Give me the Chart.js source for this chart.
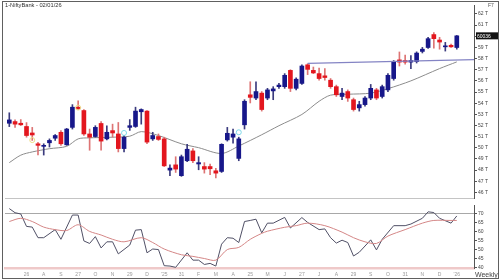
<!DOCTYPE html>
<html>
<head>
<meta charset="utf-8">
<script src="https://cdn.jsdelivr.net/npm/chart.js@4.4.1/dist/chart.umd.min.js"></script>
<style>
  body { margin:0; background:#fff; }
  #wrap { position:relative; width:500px; height:280px; overflow:hidden; font-family:'Liberation Sans', Arial, sans-serif; }
  #frame { position:absolute; left:2px; top:1px; width:497px; height:278px; box-sizing:border-box; border:1px solid #606060; pointer-events:none; }
  #top { position:absolute; left:0; top:0; }
  #bot { position:absolute; left:0; top:201px; }
  .txt { position:absolute; color:#333; white-space:nowrap; line-height:1; }
</style>
</head>
<body>
<div id="wrap">
  <canvas id="top" width="500" height="203"></canvas>
  <canvas id="bot" width="500" height="79"></canvas>
  <div class="txt" style="left:5px;top:3px;font-size:5.7px;">1-NiftyBank - 02/01/26</div>
  <div class="txt" style="left:488px;top:3px;font-size:5px;color:#555;">F7</div>
  <div class="txt" style="left:475px;top:271px;font-size:7px;color:#444;">Weekly</div>
  <div id="frame"></div>
</div>
<script>
// weekly candles, 05/07/24 .. 02/01/26
var openP  = [52200,52350,52200,51910,51330,50360,50130,50450,50860,51390,
              50270,51830,53640,53340,51240,51010,52180,50800,51540,51240,
              49930,51830,51910,53230,53290,50800,51010,50800,48000,48470,
              47500,48840,49720,48550,48320,48320,47940,47880,50710,50950,
              49050,52060,54750,54460,54900,54460,55100,55480,55480,56940,
              55330,55770,57440,56940,56650,56450,56060,55480,54600,55040,
              54310,53580,53870,54460,55190,54600,55190,56210,57880,57820,
              57680,57730,58640,58990,60150,59660,59050,59190,58990];
var highP  = [53140,52500,52530,52260,51830,50500,50360,50800,51190,51540,
              51740,53870,54220,53430,51680,51980,52350,51980,52120,52270,
              51100,52530,53640,53490,53340,51390,51240,50950,48470,49200,
              49350,50300,49930,49200,48670,48550,48170,50360,51830,51680,
              50950,54310,55920,55920,55040,55330,55480,55770,56650,57000,
              56270,57440,57530,57240,57150,57090,56210,55620,55330,55190,
              54460,54170,54600,55680,55330,55620,56650,57820,58590,58300,
              58260,58600,59000,59900,60330,59900,59450,59300,60070];
var lowP   = [51900,51830,52000,50950,50660,49370,49350,50070,50660,50220,
              50220,51680,53430,51100,49780,50950,49780,50710,50950,49630,
              49630,51560,51830,52120,50360,50660,50660,48320,47500,47790,
              47440,48760,48670,48030,47730,47590,47290,47790,50600,50420,
              48840,51680,54020,54310,53290,54310,54310,55330,55330,55040,
              55190,55680,56560,56650,56060,56060,55330,54600,54310,54160,
              53290,53290,53730,54310,54310,54460,55040,56060,57330,57500,
              57090,57600,58500,58900,58930,58840,58670,58990,58840];
var closeP = [52500,52120,52060,51100,51150,50220,50220,50660,51100,50360,
              51680,53640,53490,51240,50950,51830,50600,51390,51330,49930,
              50950,51980,53290,53430,50510,51100,50750,48380,48180,48090,
              49200,49870,48840,48670,48090,48120,47730,50310,51300,51240,
              50800,54170,54520,55040,53430,55190,55280,55620,56500,55330,
              56150,57330,57030,56710,56210,56300,55480,54750,54900,54460,
              53430,53870,54460,55330,54460,55480,56500,57680,57680,57680,
              57820,58490,58840,59780,59780,59480,59130,59050,60036];

// moving average on the price panel, read at sample weeks
var maIdx = [0, 2, 4, 7, 10, 12, 14, 18, 21, 23, 26, 30, 33, 37, 40, 44, 47, 51, 54, 56, 59, 63, 66, 70, 75, 78];
var maVal = [48670,49340,49630,49920,50130,50800,50890,50950,51040,51450,51100,50360,50010,49490,50160,51170,51980,52990,54170,54720,54800,54900,55300,56000,57100,57700];

// trend line (start week, end of axis)
var trendX = [52, 81];
var trendY = [57560, 57900];

// pattern markers
var markIdx = [4, 12, 20, 40];
var markVal = [50690, 53600, 51330, 51390];
var markCol = ['#eede8a', '#eede8a', '#7fd8e8', '#7fd8e8'];

// RSI and its average
var rsiIdx = [0,1,2,3,4,5,6,8,9,11,12,13,14,15,16,17,18,19,21,22,23,24,25,26,27,28,29,31,32,33,34,35,36,37,38,39,40,41,42,43,44,45,46,48,49,51,52,54,55,56,57,58,59,60,61,63,64,65,67,69,70,72,73,74,75,77,78];
var rsiVal = [72.7,70.4,69.7,62.8,62.4,56.5,56.5,61,55.6,69.1,69.1,54.7,53.3,57.1,50.8,54.2,54.2,47.5,52.4,60.7,61,48.1,50.2,49.9,40.9,40.7,40,48.1,44,44,41.6,42.2,40.7,52.9,56.5,56.2,53.8,65.5,66.1,66.8,59.2,64.6,64.6,67.8,61.9,67.7,65,61,61.4,56.5,53.5,55.1,53.8,46.3,48.4,55.3,49.7,55.6,63.2,63.2,64.1,67.3,70.9,70.5,67.3,64.6,68.6];
var rsiMaIdx = [0,2,4,6,8,10,12,14,16,18,20,23,25,27,30,32,34,36,38,40,42,44,45,48,50,52,55,58,60,62,64,66,69,72,74,77,78];
var rsiMaVal = [65.5,67.3,65.5,62.4,61,60.5,63.7,60,58,55.6,54.2,56.5,53.8,50.2,47,46.1,44.9,44,49.9,51.1,55.6,58.9,60.1,62.3,63.2,64.6,63.2,59.6,56.5,54.2,53.3,57.4,61,64.6,66.1,66.1,66.1];

// axis ticks
var priceTicks = [];
for (var p = 46000; p <= 62000; p += 500) priceTicks.push(p);
var rsiTicks = [40, 45, 50, 55, 60, 65, 70];
var dateTickIdx = [3,6,9,12,15,18,21,24,27,30,33,36,39,42,45,48,51,54,57,60,63,66,69,72,75,78];
var dateTickText = ['26','A','S','27','O','N','29','D',"'25",'31','F','M','A','25','M','J','27','J','A','29','S','O','31','N','D',"'26"];

Chart.defaults.font.family = "'Liberation Sans', Arial, sans-serif";

var weeks = closeP.map(function(c, i){ return i; });
var bodyCol = weeks.map(function(i){ return closeP[i] >= openP[i] ? '#17178a' : '#e3161e'; });
var wickCol = weeks.map(function(i){ return closeP[i] >= openP[i] ? '#3b3b7e' : '#dd7474'; });

var lastBox = {
  id: 'lastBox',
  afterDraw: function(chart) {
    var last = closeP[closeP.length - 1];
    var y = chart.scales.y.getPixelForValue(last);
    var x = chart.chartArea.right + 2;
    var ctx = chart.ctx;
    ctx.save();
    ctx.fillStyle = '#111';
    ctx.fillRect(x, y - 3.5, 22, 7);
    ctx.fillStyle = '#fff';
    ctx.font = "5px 'Liberation Sans', Arial, sans-serif";
    ctx.textBaseline = 'middle';
    ctx.fillText(String(last), x + 1, y + 0.3);
    ctx.restore();
  }
};

new Chart(document.getElementById('top'), {
  type: 'bar',
  data: {
    datasets: [
      {
        type: 'line',
        data: maIdx.map(function(x, k){ return {x: x, y: maVal[k]}; }),
        borderColor: '#8c8c8c', borderWidth: 1, pointRadius: 0, tension: 0.3, order: 4
      },
      {
        data: weeks.map(function(i){ return {x: i, y: [lowP[i], highP[i]]}; }),
        backgroundColor: wickCol, barThickness: 1, grouped: false, order: 3
      },
      {
        data: weeks.map(function(i){ return {x: i, y: [openP[i], closeP[i]]}; }),
        backgroundColor: bodyCol, barThickness: 4, grouped: false, minBarLength: 1, order: 2
      },
      {
        type: 'line',
        data: trendX.map(function(x, k){ return {x: x, y: trendY[k]}; }),
        borderColor: '#8484c4', borderWidth: 1.2, pointRadius: 0, order: 1
      },
      {
        type: 'line', showLine: false,
        data: markIdx.map(function(x, k){ return {x: x, y: markVal[k]}; }),
        pointRadius: 2.5, pointBorderWidth: 1, pointBorderColor: markCol,
        pointBackgroundColor: 'rgba(0,0,0,0)', order: 0
      }
    ]
  },
  options: {
    responsive: false, animation: false, events: [],
    layout: { padding: { left: 5, top: 5, right: 0, bottom: 1 } },
    plugins: { legend: { display: false }, tooltip: { enabled: false } },
    scales: {
      x: {
        type: 'linear', min: -0.75, max: 81, offset: false,
        grid: { display: false, drawTicks: false, offset: false },
        ticks: { display: false },
        border: { display: true, color: '#c4c4c4', width: 1 },
        afterFit: function(s){ s.height = 0; }
      },
      y: {
        type: 'linear', position: 'right', min: 45500, max: 62800,
        afterBuildTicks: function(s){ s.ticks = priceTicks.map(function(v){ return {value: v}; }); },
        afterFit: function(s){ s.width = 26; },
        grid: { drawOnChartArea: false, drawTicks: true, tickLength: 3, color: '#555' },
        border: { display: true, color: '#555' },
        ticks: {
          padding: 1, color: '#444', font: { size: 5 },
          callback: function(v){ return v % 1000 === 0 ? (v / 1000) + ' T' : String(v); }
        }
      }
    }
  },
  plugins: [lastBox]
});

new Chart(document.getElementById('bot'), {
  type: 'line',
  data: {
    datasets: [
      {
        data: rsiMaIdx.map(function(x, k){ return {x: x, y: rsiMaVal[k]}; }),
        borderColor: '#d48686', borderWidth: 1, pointRadius: 0, tension: 0.3
      },
      {
        data: rsiIdx.map(function(x, k){ return {x: x, y: rsiVal[k]}; }),
        borderColor: '#505066', borderWidth: 1, pointRadius: 0
      }
    ]
  },
  options: {
    responsive: false, animation: false, events: [],
    layout: { padding: { left: 5, top: 2, right: 0, bottom: 0 } },
    plugins: { legend: { display: false }, tooltip: { enabled: false } },
    scales: {
      x: {
        type: 'linear', min: -0.75, max: 81, offset: false,
        afterBuildTicks: function(s){ s.ticks = dateTickIdx.map(function(v){ return {value: v}; }); },
        afterFit: function(s){ s.height = 11.5; },
        grid: { display: false, drawTicks: false },
        border: { display: true, color: '#efc9c9', width: 2.5 },
        ticks: {
          padding: 3, autoSkip: false, maxRotation: 0, color: '#9a9a9a', font: { size: 5 },
          callback: function(v){ return dateTickText[dateTickIdx.indexOf(v)]; }
        }
      },
      y: {
        type: 'linear', position: 'right', min: 39.35, max: 74.7,
        afterBuildTicks: function(s){ s.ticks = rsiTicks.map(function(v){ return {value: v}; }); },
        afterFit: function(s){ s.width = 26; },
        grid: {
          drawOnChartArea: true, drawTicks: true, tickLength: 3, tickColor: '#555',
          color: function(c){ return c.tick && c.tick.value === 70 ? '#a8a8a8' : 'rgba(0,0,0,0)'; }
        },
        border: { display: true, color: '#555' },
        ticks: { padding: 1, color: '#444', font: { size: 5 } }
      }
    }
  }
});
</script>
</body>
</html>
